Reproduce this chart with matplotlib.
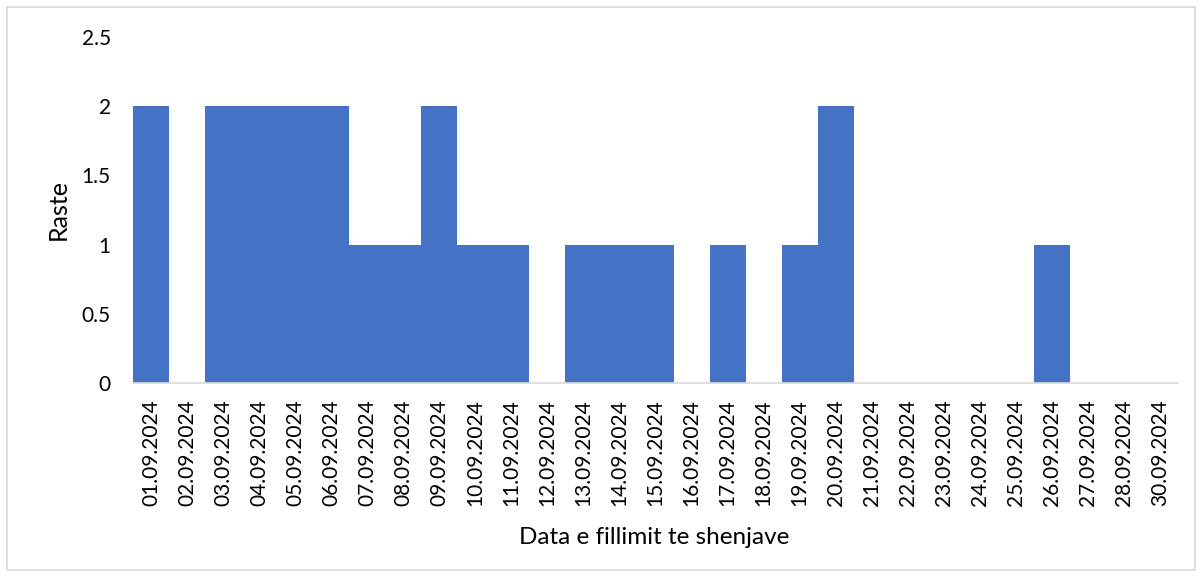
import matplotlib
matplotlib.use("Agg")
import matplotlib.pyplot as plt
from matplotlib.patches import Rectangle

dates = ["01.09.2024", "02.09.2024", "03.09.2024", "04.09.2024", "05.09.2024",
         "06.09.2024", "07.09.2024", "08.09.2024", "09.09.2024", "10.09.2024",
         "11.09.2024", "12.09.2024", "13.09.2024", "14.09.2024", "15.09.2024",
         "16.09.2024", "17.09.2024", "18.09.2024", "19.09.2024", "20.09.2024",
         "21.09.2024", "22.09.2024", "23.09.2024", "24.09.2024", "25.09.2024",
         "26.09.2024", "27.09.2024", "28.09.2024", "30.09.2024"]
cases = [2, 0, 2, 2, 2, 2, 1, 1, 2, 1, 1, 0, 1, 1, 1, 0, 1, 0, 1, 2,
         0, 0, 0, 0, 0, 1, 0, 0, 0]
yticks = [0, 0.5, 1, 1.5, 2, 2.5]
ytick_labels = ["0", "0.5", "1", "1.5", "2", "2.5"]

plt.rcParams['font.family'] = ['Lato', 'DejaVu Sans']

W, H = 1202, 577
fig = plt.figure(figsize=(W / 100, H / 100), dpi=100)
ax = fig.add_axes([133 / W, 1 - 383 / H, (1178 - 133) / W, (383 - 37) / H])

x = list(range(len(dates)))
ax.bar(x, cases, width=1.0, color="#4472C4", linewidth=0)
ax.set_xlim(-0.5, len(dates) - 0.5)
ax.set_ylim(0, 2.5)
ax.set_xticks(x)
ax.set_xticklabels(dates, rotation=90, fontsize=15, color="#000000")
ax.set_yticks(yticks)
ax.set_yticklabels(ytick_labels, fontsize=15, color="#000000")
ax.tick_params(axis="both", length=0)
ax.tick_params(axis="x", pad=12)
ax.tick_params(axis="y", pad=16)
for s in ["top", "right", "left"]:
    ax.spines[s].set_visible(False)
ax.spines["bottom"].set_color("#D9D9D9")
ax.spines["bottom"].set_linewidth(1.2)

fig.text(58 / W, 1 - 210 / H, "Raste", rotation=90, fontsize=18,
         ha="center", va="center")
fig.text(654 / W, 1 - 538 / H, "Data e fillimit te shenjave", fontsize=17.5,
         ha="center", va="center")

fig.patches.append(Rectangle((7 / W, 7 / H), (1195 - 7) / W, (570 - 7) / H,
                             transform=fig.transFigure, fill=False,
                             edgecolor="#D9D9D9", linewidth=1.2))

fig.savefig("out.png", dpi=100)
